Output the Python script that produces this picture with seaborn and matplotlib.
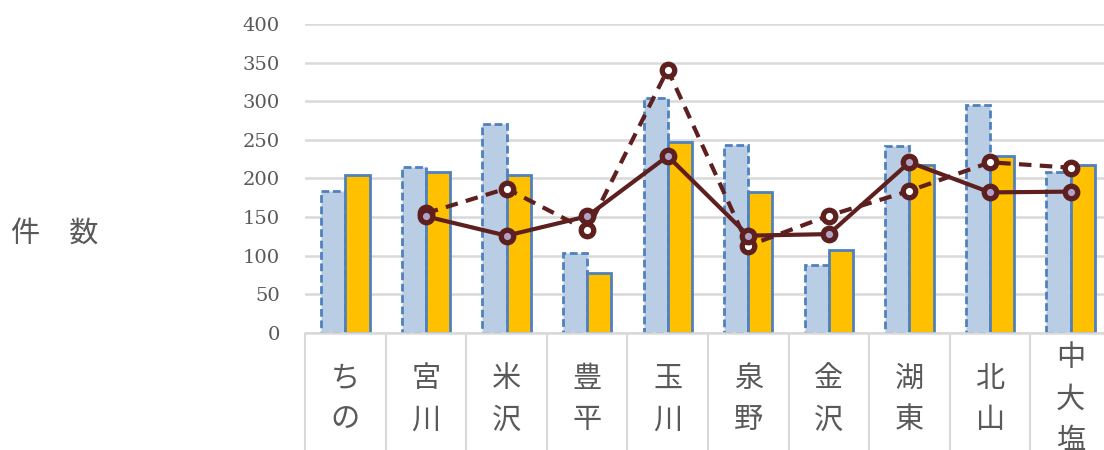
import seaborn as sns
import pandas as pd
import matplotlib.pyplot as plt
from matplotlib.ticker import FixedLocator

# data
areas = ['ちの', '宮川', '米沢', '豊平', '玉川', '泉野', '金沢', '湖東', '北山', '中大塩']
bar_a = [184, 215, 270, 103, 304, 244, 88, 242, 295, 208]
bar_b = [205, 209, 205, 78, 247, 183, 108, 217, 229, 218]
line_dash = [None, 155, 187, 133, 341, 113, 152, 184, 221, 214]
line_solid = [None, 151, 126, 151, 229, 126, 128, 221, 182, 183]
y_ticks = [0, 50, 100, 150, 200, 250, 300, 350, 400]

sns.set_style('white')
plt.rcParams['font.family'] = ['Noto Sans CJK JP', 'DejaVu Sans']

bars = pd.DataFrame({
    'area': areas * 2,
    'count': bar_a + bar_b,
    'series': ['A'] * len(areas) + ['B'] * len(areas),
})

fig = plt.figure(figsize=(11.04, 4.5), dpi=100)
ax = fig.add_axes([0.2763, 0.26, 0.73, 0.6867])

grid_c = '#D9D9D9'
text_c = '#595959'
line_c = '#5E1F1F'

ax.set_axisbelow(True)
ax.yaxis.grid(True, color=grid_c, lw=1.8)

sns.barplot(data=bars, x='area', y='count', hue='series', order=areas,
            palette=['#B9CDE5', '#FFC000'], saturation=1, width=0.6, gap=0,
            edgecolor='#4F81BD', linewidth=2, legend=False, ax=ax)
for p in ax.containers[0]:
    p.set_linestyle((0, (2.8, 1.3)))

dash_df = pd.DataFrame({'area': areas, 'count': line_dash}).dropna()
solid_df = pd.DataFrame({'area': areas, 'count': line_solid}).dropna()

sns.pointplot(data=dash_df, x='area', y='count', order=areas, color=line_c,
              errorbar=None, linestyles=(0, (3, 2)), markers='o', ax=ax,
              lw=3, markersize=9, mew=3.8, mfc='white', mec=line_c)
sns.pointplot(data=solid_df, x='area', y='count', order=areas, color=line_c,
              errorbar=None, linestyles='-', markers='o', ax=ax,
              lw=3, markersize=9, mew=3.8, mfc='#B3A2C7', mec=line_c)

ax.set_xlim(-0.5, len(areas) - 0.5)
ax.set_ylim(0, 400)
ax.set_yticks(y_ticks)
ax.set_yticklabels([str(t) for t in y_ticks], family='DejaVu Serif',
                   fontsize=14, color=text_c)
ax.tick_params(axis='y', length=0, pad=18)

ax.set_xticks(range(len(areas)))
ax.set_xticklabels(['\n'.join(a) for a in areas], fontsize=21, color=text_c,
                   linespacing=1.5)
for lbl in ax.get_xticklabels():
    lbl.set_va('center')
ax.tick_params(axis='x', which='major', length=0, pad=48)
ax.xaxis.set_minor_locator(FixedLocator([i - 0.5 for i in range(len(areas) + 1)]))
ax.tick_params(axis='x', which='minor', bottom=True, length=90, width=1.5,
               color=grid_c, direction='out')

for s in ['left', 'right', 'top']:
    ax.spines[s].set_visible(False)
ax.spines['bottom'].set_color(grid_c)
ax.spines['bottom'].set_linewidth(1.8)

ax.set_xlabel('')
ax.set_ylabel('')
fig.text(0.01, 0.478, '件\u3000数', fontsize=21, color=text_c, va='center')

fig.savefig('out.png', dpi=100)
